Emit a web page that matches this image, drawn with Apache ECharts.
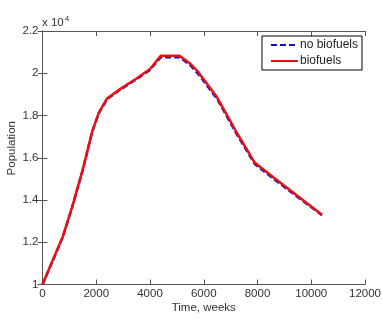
<!DOCTYPE html>
<html>
<head>
<meta charset="utf-8">
<script src="https://cdn.jsdelivr.net/npm/echarts@6/dist/echarts.min.js"></script>
<style>html,body{margin:0;padding:0;background:#fff;}#c{width:382px;height:320px;}</style>
</head>
<body>
<div id="c"></div>
<script>
var weeks = [0, 750, 1100, 1500, 1850, 2100, 2400, 2900, 3500, 4000, 4400, 5100, 5500, 5800, 6500, 7200, 7900, 8600, 9300, 10400];
var noBiofuels = [10000, 12230, 13640, 15430, 17230, 18120, 18770, 19230, 19720, 20160, 20760, 20760, 20380, 19960, 18780, 17180, 15700, 15000, 14330, 13280];
var biofuels = [10000, 12250, 13650, 15450, 17250, 18150, 18800, 19260, 19750, 20200, 20830, 20830, 20450, 20050, 18850, 17250, 15760, 15060, 14380, 13300];
var xTicks = [0, 2000, 4000, 6000, 8000, 10000, 12000];
var yTicks = [1, 1.2, 1.4, 1.6, 1.8, 2, 2.2];
var seriesNames = ['no biofuels', 'biofuels'];

var chart = echarts.init(document.getElementById('c'), null, {renderer: 'canvas'});
var font = 'Liberation Sans, Arial, sans-serif';
var axisColor = '#555';
function pairs(xs, ys) { return xs.map(function (x, i) { return [x, ys[i]]; }); }
var baseAxis = {
  axisLine: {show: true, lineStyle: {color: axisColor, width: 1}},
  axisTick: {show: true, inside: true, length: 5, lineStyle: {color: axisColor}},
  splitLine: {show: false}
};
chart.setOption({
  animation: false,
  backgroundColor: '#fff',
  grid: {left: 42.5, right: 17, top: 31, bottom: 35.5, containLabel: false, outerBoundsMode: 'none'},
  xAxis: [
    Object.assign({}, baseAxis, {
      type: 'value', min: xTicks[0], max: xTicks[xTicks.length - 1], interval: 2000, position: 'bottom',
      name: 'Time, weeks', nameLocation: 'middle', nameGap: 17, nameMoveOverlap: false,
      nameTextStyle: {fontFamily: font, fontSize: 11.5, color: '#333'},
      axisLabel: {fontFamily: font, fontSize: 11.5, color: '#333', margin: 3,
        formatter: function (v) { return String(v); }}
    }),
    Object.assign({}, baseAxis, {
      type: 'value', min: xTicks[0], max: xTicks[xTicks.length - 1], interval: 2000, position: 'top',
      axisLabel: {show: false}
    })
  ],
  yAxis: [
    Object.assign({}, baseAxis, {
      type: 'value', min: yTicks[0] * 10000, max: yTicks[yTicks.length - 1] * 10000, interval: 2000, position: 'left',
      name: 'Population', nameLocation: 'middle', nameGap: 25, nameRotate: 90, nameMoveOverlap: false,
      nameTextStyle: {fontFamily: font, fontSize: 11.5, color: '#333', padding: [0, 0, 0, 19]},
      axisLabel: {fontFamily: font, fontSize: 11.5, color: '#333', margin: 4,
        formatter: function (v) { return String(Math.round(v / 1000) / 10); }}
    }),
    Object.assign({}, baseAxis, {
      type: 'value', min: yTicks[0] * 10000, max: yTicks[yTicks.length - 1] * 10000, interval: 2000, position: 'right',
      axisLabel: {show: false}
    })
  ],
  legend: {
    right: 20, top: 36, orient: 'vertical',
    backgroundColor: '#fff', borderColor: '#000', borderWidth: 1, borderRadius: 0,
    padding: [3, 4, 3, 8], itemGap: 4, itemWidth: 27, itemHeight: 10,
    itemStyle: {opacity: 0},
    textStyle: {fontFamily: font, fontSize: 12, color: '#222', padding: [0, 0, 0, -3]},
    data: seriesNames
  },
  series: [
    {
      name: seriesNames[0], type: 'line', data: pairs(weeks, noBiofuels), showSymbol: false, symbol: 'none',
      lineStyle: {color: '#1010d0', width: 2.5, type: [6, 3]}, itemStyle: {color: '#1010d0'}, z: 2
    },
    {
      name: seriesNames[1], type: 'line', data: pairs(weeks, biofuels), showSymbol: false, symbol: 'none',
      lineStyle: {color: '#e81010', width: 2.5}, itemStyle: {color: '#e81010'}, z: 3
    }
  ],
  graphic: [
    {type: 'text', left: 42, top: 15, style: {
      text: 'x 10{s|4}', fontFamily: font, fontSize: 11.5, fill: '#333',
      rich: {s: {fontFamily: font, fontSize: 8, fill: '#333', verticalAlign: 'top', padding: [0, 0, 8, 1]}}
    }}
  ]
});
</script>
</body>
</html>
